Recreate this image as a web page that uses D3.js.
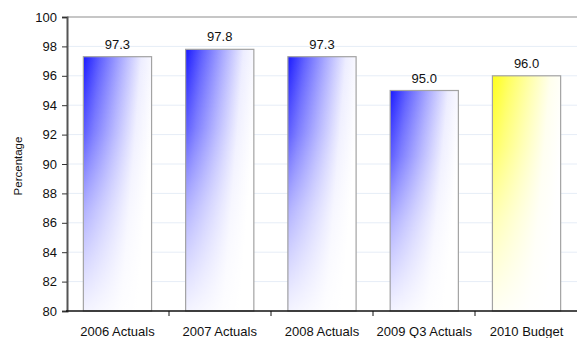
<!DOCTYPE html>
<html>
<head>
<meta charset="utf-8">
<script src="https://cdn.jsdelivr.net/npm/d3@7"></script>
<style>
  html, body { margin: 0; padding: 0; background: #fff; }
  svg { display: block; font-family: "Liberation Sans", Arial, sans-serif; }
</style>
</head>
<body>
<svg id="chart" width="577" height="338"></svg>
<script>
// Occupancy percentages by period
const categories = ["2006 Actuals", "2007 Actuals", "2008 Actuals", "2009 Q3 Actuals", "2010 Budget"];
const values = [97.3, 97.8, 97.3, 95.0, 96.0];
const barColors = ["#1a1aff", "#1a1aff", "#1a1aff", "#1a1aff", "#ffff1a"];
const yTicks = [80, 82, 84, 86, 88, 90, 92, 94, 96, 98, 100];

const svg = d3.select("#chart");
const margin = { left: 67, right: 0, top: 17, bottom: 27 };
const W = 577, H = 338;

const x = d3.scaleBand()
  .domain(categories)
  .range([margin.left, W - margin.right])
  .paddingInner(0.333)
  .paddingOuter(0.16);

const y = d3.scaleLinear()
  .domain([80, 100])
  .range([H - margin.bottom, margin.top]);

const defs = svg.append("defs");

// Gradient for each colour: saturated in the top-left corner fading to white
const uniq = Array.from(new Set(barColors));
uniq.forEach((c, i) => {
  const mix = d3.interpolateRgb(c, "#fff");
  const g = defs.append("linearGradient")
    .attr("id", "h" + i)
    .attr("x1", 0).attr("y1", 0).attr("x2", 1).attr("y2", 0.3);
  [[0, 0], [0.22, 0.3], [0.5, 0.62], [0.78, 0.92], [1, 1]].forEach(([o, m]) => {
    g.append("stop").attr("offset", o).attr("stop-color", mix(m));
  });
});
const v = defs.append("linearGradient")
  .attr("id", "fadeV")
  .attr("x1", 0).attr("y1", 0).attr("x2", 0).attr("y2", 1);
[[0, 0], [0.3, 0.2], [0.6, 0.55], [1, 0.92]].forEach(([o, a]) => {
  v.append("stop").attr("offset", o).attr("stop-color", "#fff").attr("stop-opacity", a);
});

// Horizontal gridlines
svg.append("g")
  .selectAll("line")
  .data(yTicks.filter(t => t !== 80 && t !== 100))
  .join("line")
  .attr("x1", margin.left).attr("x2", W - margin.right)
  .attr("y1", d => y(d)).attr("y2", d => y(d))
  .attr("stroke", "#e6edf7").attr("stroke-width", 1);

// Top border line at 100
svg.append("line")
  .attr("x1", margin.left).attr("x2", W)
  .attr("y1", y(100)).attr("y2", y(100))
  .attr("stroke", "#b3b3b3").attr("stroke-width", 1.5);

// Bars
const bars = svg.append("g");
categories.forEach((c, i) => {
  const bx = x(c), bw = x.bandwidth(), by = y(values[i]), bh = y(80) - y(values[i]);
  const gi = uniq.indexOf(barColors[i]);
  bars.append("rect")
    .attr("x", bx).attr("y", by).attr("width", bw).attr("height", bh)
    .attr("fill", "url(#h" + gi + ")");
  bars.append("rect")
    .attr("x", bx).attr("y", by).attr("width", bw).attr("height", bh)
    .attr("fill", "url(#fadeV)")
    .attr("stroke", "#a3a3a3").attr("stroke-width", 1.2);
});

// Value labels
svg.append("g")
  .selectAll("text")
  .data(categories)
  .join("text")
  .attr("x", d => x(d) + x.bandwidth() / 2)
  .attr("y", (d, i) => y(values[i]) - 8)
  .attr("text-anchor", "middle")
  .attr("font-size", 13)
  .attr("fill", "#111")
  .text((d, i) => values[i].toFixed(1));

// Y axis
const yAxis = svg.append("g")
  .attr("transform", `translate(${margin.left},0)`)
  .call(d3.axisLeft(y).tickValues(yTicks).tickSize(5).tickPadding(5).tickFormat(d3.format("d")));
yAxis.select(".domain").attr("stroke", "#555").attr("stroke-width", 2);
yAxis.selectAll(".tick line").attr("stroke", "#333");
yAxis.selectAll("text").attr("font-size", 13).attr("fill", "#111")
  .attr("font-family", "Liberation Sans, Arial, sans-serif");

// X axis: baseline and separator ticks between categories
svg.append("line")
  .attr("x1", margin.left - 1).attr("x2", W)
  .attr("y1", y(80)).attr("y2", y(80))
  .attr("stroke", "#111").attr("stroke-width", 1.5);
const seps = d3.range(1, categories.length).map(i => margin.left + (W - margin.left) / categories.length * i);
svg.append("g").selectAll("line")
  .data(seps)
  .join("line")
  .attr("x1", d => d).attr("x2", d => d)
  .attr("y1", y(80)).attr("y2", y(80) + 5)
  .attr("stroke", "#111").attr("stroke-width", 1);

svg.append("g")
  .selectAll("text")
  .data(categories)
  .join("text")
  .attr("x", d => x(d) + x.bandwidth() / 2)
  .attr("y", H - 2)
  .attr("text-anchor", "middle")
  .attr("font-size", 13)
  .attr("fill", "#111")
  .text(d => d);

// Y axis title
svg.append("text")
  .attr("transform", `translate(22,${(y(80) + y(100)) / 2 + 2}) rotate(-90)`)
  .attr("text-anchor", "middle")
  .attr("font-size", 11.5)
  .attr("fill", "#111")
  .text("Percentage");
</script>
</body>
</html>
